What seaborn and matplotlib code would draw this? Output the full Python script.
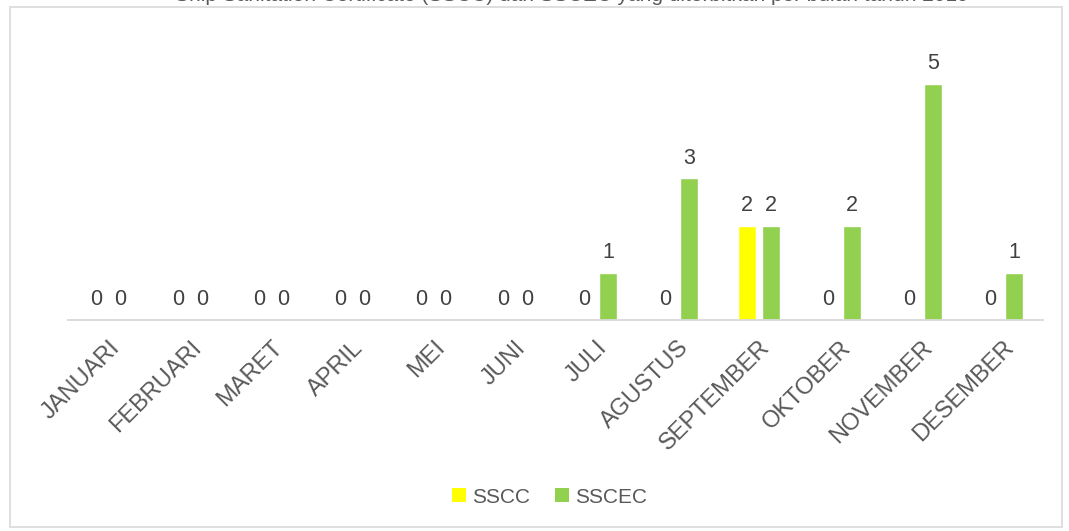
import matplotlib
matplotlib.use("Agg")
import matplotlib.pyplot as plt
from matplotlib.patches import Rectangle, Patch
import seaborn as sns
import pandas as pd

sns.set_theme(style="white")
plt.rcParams['font.family'] = ['Liberation Sans', 'DejaVu Sans']

months = ["JANUARI", "FEBRUARI", "MARET", "APRIL", "MEI", "JUNI", "JULI",
          "AGUSTUS", "SEPTEMBER", "OKTOBER", "NOVEMBER", "DESEMBER"]
sscc = [0, 0, 0, 0, 0, 0, 0, 0, 2, 0, 0, 0]
sscec = [0, 0, 0, 0, 0, 0, 1, 3, 2, 2, 5, 1]
series = ["SSCC", "SSCEC"]
colors = {"SSCC": "#FFFF00", "SSCEC": "#92D050"}
title = "Ship Sanitation Certificate (SSCC) dan SSCEC yang diterbitkan per bulan tahun 2019"

df = pd.DataFrame({
    "Bulan": months * 2,
    "Jenis": [series[0]] * len(months) + [series[1]] * len(months),
    "Jumlah": sscc + sscec,
})

fig = plt.figure(figsize=(10.69, 5.31), dpi=100)
ax = fig.add_axes([0.0636, 0.3974, 0.912, 0.5329])

sns.barplot(data=df, x="Bulan", y="Jumlah", hue="Jenis", palette=colors,
            width=0.59, gap=0.25, ax=ax, legend=False, saturation=1)

for cont in ax.containers:
    ax.bar_label(cont, fmt="%d", padding=7, fontsize=15.5, color="#404040")

ax.set_ylim(0, 6)
ax.set_xlim(-0.5, len(months) - 0.5)
ax.set_xlabel("")
ax.set_ylabel("")
ax.set_yticks([])
ax.tick_params(axis="x", length=0, pad=12)
ax.set_xticks(range(len(months)))
ax.set_xticklabels(months, rotation=45, ha="right", rotation_mode="anchor",
                   fontsize=17, color="#595959")
for s in ["top", "left", "right"]:
    ax.spines[s].set_visible(False)
ax.spines["bottom"].set_color("#d9d9d9")
ax.spines["bottom"].set_linewidth(1.3)

handles = [Patch(facecolor=colors[s], edgecolor="none", label=s) for s in series]
fig.legend(handles=handles, loc="center", bbox_to_anchor=(0.514, 0.064), ncol=2,
           frameon=False, fontsize=15, handlelength=0.65, handleheight=0.65,
           handletextpad=0.3, columnspacing=1.2, labelcolor="#595959")

# chart border and clipped title
fig.patches.append(Rectangle((10 / 1069, 4 / 531), 1052 / 1069, 520 / 531,
                             transform=fig.transFigure, fill=False,
                             edgecolor="#d9d9d9", linewidth=1.2))
fig.text(0.535, 1 - 1.0 / 531, title, ha="center", va="baseline",
         fontsize=15, color="#595959")

fig.savefig("out.png", dpi=100)
